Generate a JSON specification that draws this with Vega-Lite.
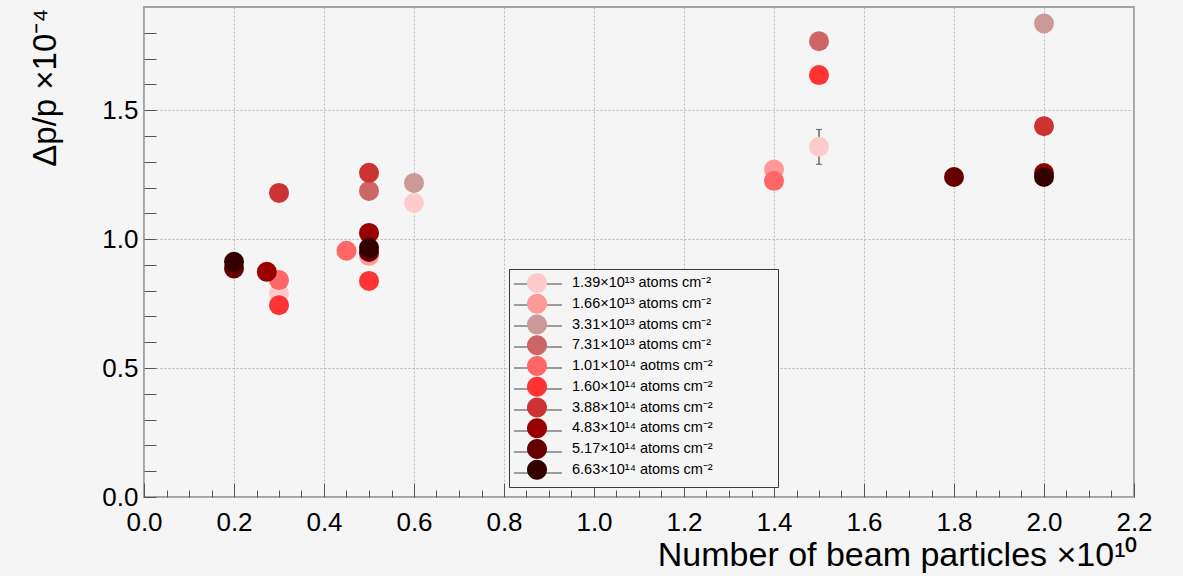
{
  "$schema": "https://vega.github.io/schema/vega-lite/v6.json",
  "width": 990,
  "height": 490,
  "autosize": {"type": "none"},
  "padding": {"left": 144, "top": 7, "right": 49, "bottom": 79},
  "background": "#f5f5f5",
  "config": {
    "font": "Liberation Sans",
    "view": {"fill": "#f5f5f5", "stroke": "#a3a3a3", "strokeWidth": 2},
    "axis": {
      "labelFont": "Liberation Sans",
      "titleFont": "Liberation Sans",
      "labelColor": "#000000",
      "titleColor": "#000000",
      "titleFontWeight": "normal",
      "domain": false,
      "tickColor": "#555555",
      "tickWidth": 1,
      "gridColor": "#b8b8b8",
      "gridDash": [2, 2],
      "gridWidth": 1,
      "labelFlush": false,
      "labelOverlap": false,
      "labelBound": false
    },
    "legend": {
      "labelFont": "Liberation Sans",
      "labelFontSize": 14.5,
      "labelColor": "#000000",
      "symbolSize": 400,
      "rowPadding": 0.75,
      "padding": 4,
      "orient": "none",
      "legendX": 365,
      "legendY": 262
    }
  },
  "data": {
    "values": [
      {"density": "1.39×10¹³ atoms cm⁻²", "n": 0.3, "dpp": 0.79},
      {"density": "1.39×10¹³ atoms cm⁻²", "n": 0.6, "dpp": 1.14},
      {"density": "1.39×10¹³ atoms cm⁻²", "n": 1.5, "dpp": 1.358, "lo": 1.29, "hi": 1.425},
      {"density": "1.66×10¹³ atoms cm⁻²", "n": 0.5, "dpp": 0.935},
      {"density": "1.66×10¹³ atoms cm⁻²", "n": 1.4, "dpp": 1.27},
      {"density": "3.31×10¹³ atoms cm⁻²", "n": 0.6, "dpp": 1.218},
      {"density": "3.31×10¹³ atoms cm⁻²", "n": 2.0, "dpp": 1.836},
      {"density": "7.31×10¹³ atoms cm⁻²", "n": 0.5, "dpp": 1.187},
      {"density": "7.31×10¹³ atoms cm⁻²", "n": 1.5, "dpp": 1.767},
      {"density": "1.01×10¹⁴ aotms cm⁻²", "n": 0.3, "dpp": 0.841},
      {"density": "1.01×10¹⁴ aotms cm⁻²", "n": 0.45, "dpp": 0.955},
      {"density": "1.01×10¹⁴ aotms cm⁻²", "n": 1.4, "dpp": 1.226},
      {"density": "1.60×10¹⁴ atoms cm⁻²", "n": 0.3, "dpp": 0.744},
      {"density": "1.60×10¹⁴ atoms cm⁻²", "n": 0.5, "dpp": 0.838},
      {"density": "1.60×10¹⁴ atoms cm⁻²", "n": 1.5, "dpp": 1.636},
      {"density": "3.88×10¹⁴ atoms cm⁻²", "n": 0.3, "dpp": 1.179},
      {"density": "3.88×10¹⁴ atoms cm⁻²", "n": 0.5, "dpp": 1.257},
      {"density": "3.88×10¹⁴ atoms cm⁻²", "n": 2.0, "dpp": 1.438},
      {"density": "4.83×10¹⁴ atoms cm⁻²", "n": 0.273, "dpp": 0.873},
      {"density": "4.83×10¹⁴ atoms cm⁻²", "n": 0.5, "dpp": 1.024},
      {"density": "4.83×10¹⁴ atoms cm⁻²", "n": 2.0, "dpp": 1.256},
      {"density": "5.17×10¹⁴ atoms cm⁻²", "n": 0.2, "dpp": 0.886},
      {"density": "5.17×10¹⁴ atoms cm⁻²", "n": 0.5, "dpp": 0.95},
      {"density": "5.17×10¹⁴ atoms cm⁻²", "n": 1.8, "dpp": 1.241},
      {"density": "6.63×10¹⁴ atoms cm⁻²", "n": 0.2, "dpp": 0.912},
      {"density": "6.63×10¹⁴ atoms cm⁻²", "n": 0.5, "dpp": 0.966},
      {"density": "6.63×10¹⁴ atoms cm⁻²", "n": 2.0, "dpp": 1.241}
    ]
  },
  "layer": [
    {
      "mark": {"type": "rule", "strokeWidth": 1.2},
      "encoding": {
        "x": {
          "field": "n", "type": "quantitative",
          "scale": {"domain": [0, 2.2], "nice": false, "zero": false},
          "axis": {
            "orient": "bottom", "title": null, "labels": false, "grid": false, "tickSize": -7,
            "values": [0.05, 0.1, 0.15, 0.25, 0.3, 0.35, 0.45, 0.5, 0.55, 0.65, 0.7, 0.75, 0.85, 0.9, 0.95, 1.05, 1.1, 1.15, 1.25, 1.3, 1.35, 1.45, 1.5, 1.55, 1.65, 1.7, 1.75, 1.85, 1.9, 1.95, 2.05, 2.1, 2.15]
          }
        },
        "y": {
          "field": "lo", "type": "quantitative",
          "scale": {"domain": [0, 1.9], "nice": false, "zero": false},
          "axis": {
            "orient": "left", "title": null, "labels": false, "grid": false, "tickSize": -12,
            "values": [0.1, 0.2, 0.3, 0.4, 0.6, 0.7, 0.8, 0.9, 1.1, 1.2, 1.3, 1.4, 1.6, 1.7, 1.8]
          }
        },
        "y2": {"field": "hi"},
        "color": {
          "field": "density", "type": "nominal",
          "scale": {
            "domain": ["6.63×10¹⁴ atoms cm⁻²", "5.17×10¹⁴ atoms cm⁻²", "4.83×10¹⁴ atoms cm⁻²", "3.88×10¹⁴ atoms cm⁻²", "1.60×10¹⁴ atoms cm⁻²", "1.01×10¹⁴ aotms cm⁻²", "7.31×10¹³ atoms cm⁻²", "3.31×10¹³ atoms cm⁻²", "1.66×10¹³ atoms cm⁻²", "1.39×10¹³ atoms cm⁻²"],
            "range": ["#444444"]
          },
          "legend": {
            "title": null,
            "values": ["1.39×10¹³ atoms cm⁻²", "1.66×10¹³ atoms cm⁻²", "3.31×10¹³ atoms cm⁻²", "7.31×10¹³ atoms cm⁻²", "1.01×10¹⁴ aotms cm⁻²", "1.60×10¹⁴ atoms cm⁻²", "3.88×10¹⁴ atoms cm⁻²", "4.83×10¹⁴ atoms cm⁻²", "5.17×10¹⁴ atoms cm⁻²", "6.63×10¹⁴ atoms cm⁻²"],
            "symbolType": "M-1,0L3.8,0M1.4,-0.69M1.4,0.69",
            "symbolStrokeWidth": 1.2,
            "symbolStrokeColor": "#444444",
            "symbolFillColor": "transparent",
            "labelOpacity": 0,
            "labelOffset": 98,
            "rowPadding": -0.33,
            "fillColor": "#f5f5f5",
            "strokeColor": "#3a3a3a"
          }
        }
      }
    },
    {
      "mark": {"type": "tick", "orient": "horizontal", "size": 6, "thickness": 1.2, "color": "#444444"},
      "encoding": {
        "x": {"field": "n", "type": "quantitative", "axis": null},
        "y": {"field": "lo", "type": "quantitative", "axis": null}
      }
    },
    {
      "mark": {"type": "tick", "orient": "horizontal", "size": 6, "thickness": 1.2, "color": "#444444"},
      "encoding": {
        "x": {"field": "n", "type": "quantitative", "axis": null},
        "y": {"field": "hi", "type": "quantitative", "axis": null}
      }
    },
    {
      "mark": {"type": "circle", "size": 400, "opacity": 1, "strokeWidth": 0},
      "encoding": {
        "x": {
          "field": "n", "type": "quantitative",
          "scale": {"domain": [0, 2.2], "nice": false, "zero": false},
          "axis": {
            "orient": "bottom",
            "values": [0, 0.2, 0.4, 0.6, 0.8, 1.0, 1.2, 1.4, 1.6, 1.8, 2.0, 2.2],
            "format": ".1f",
            "tickSize": -14,
            "labelFontSize": 26,
            "labelPadding": 26.8,
            "grid": true,
            "title": "Number of beam particles ×10¹⁰",
            "titleFontSize": 34,
            "titleAnchor": "end",
            "titleAlign": "right",
            "titleBaseline": "alphabetic",
            "titleAngle": 0,
            "titleX": 993,
            "titleY": 68
          }
        },
        "y": {
          "field": "dpp", "type": "quantitative",
          "scale": {"domain": [0, 1.9], "nice": false, "zero": false},
          "axis": {
            "orient": "left",
            "values": [0, 0.5, 1.0, 1.5],
            "format": ".1f",
            "tickSize": -12,
            "labelFontSize": 26,
            "labelPadding": 18,
            "grid": true,
            "title": "Δp/p ×10⁻⁴",
            "titleFontSize": 33,
            "titleAngle": 270,
            "titleAlign": "right",
            "titleBaseline": "alphabetic",
            "titleX": -89,
            "titleY": 1
          }
        },
        "fill": {
          "field": "density", "type": "nominal",
          "scale": {
            "domain": ["1.39×10¹³ atoms cm⁻²", "1.66×10¹³ atoms cm⁻²", "3.31×10¹³ atoms cm⁻²", "7.31×10¹³ atoms cm⁻²", "1.01×10¹⁴ aotms cm⁻²", "1.60×10¹⁴ atoms cm⁻²", "3.88×10¹⁴ atoms cm⁻²", "4.83×10¹⁴ atoms cm⁻²", "5.17×10¹⁴ atoms cm⁻²", "6.63×10¹⁴ atoms cm⁻²"],
            "range": ["#ffcaca", "#ff9999", "#cc9999", "#cc6666", "#ff6666", "#ff3333", "#cc3333", "#990000", "#660000", "#330000"]
          },
          "legend": {
            "title": null,
            "symbolType": "M0.4,0A1,1,0,1,0,2.4,0A1,1,0,1,0,0.4,0Z",
            "symbolStrokeWidth": 0,
            "symbolOpacity": 1,
            "labelOffset": 39
          }
        }
      }
    }
  ],
  "resolve": {"axis": {"x": "independent", "y": "independent"}}
}
